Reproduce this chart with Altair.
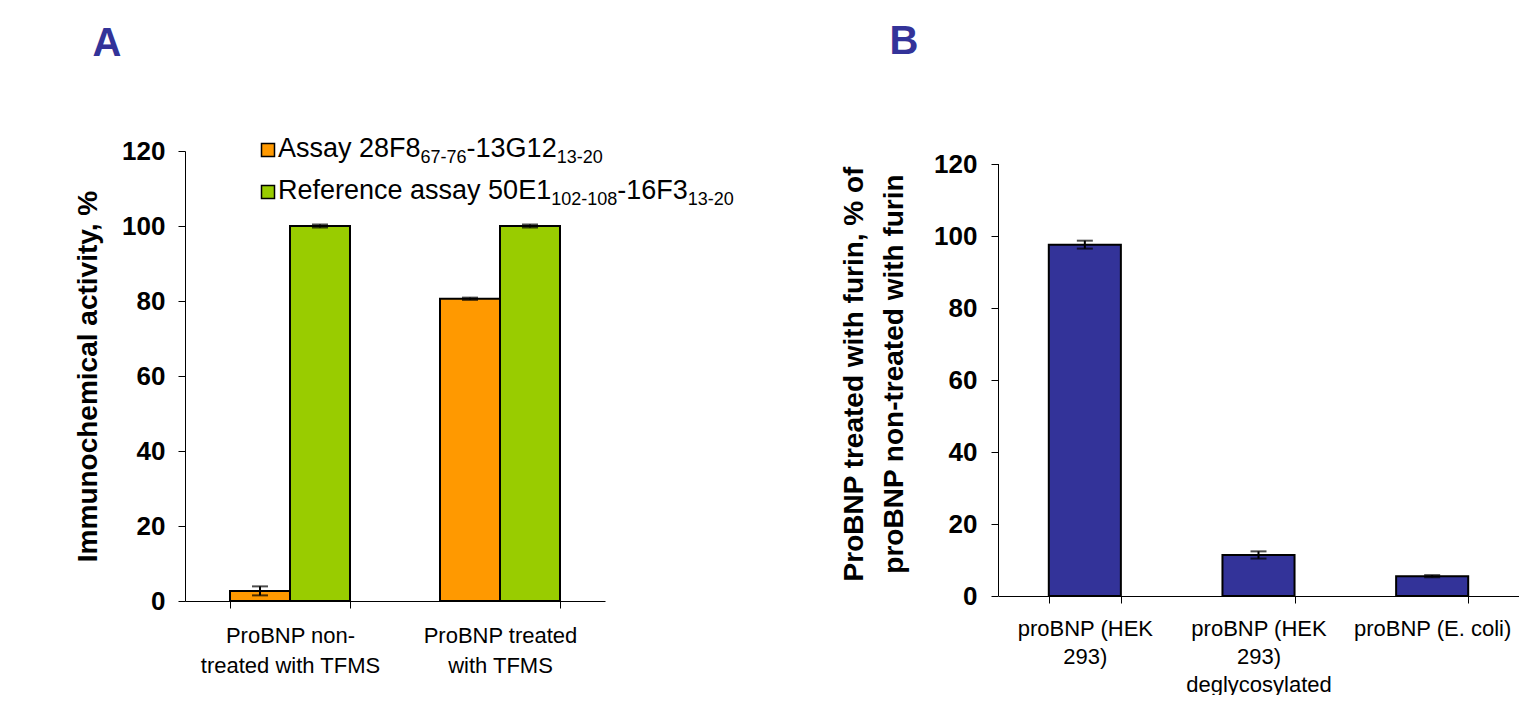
import altair as alt
import pandas as pd

# ---------------- data ----------------
cats_a = ["ProBNP non-|treated with TFMS", "ProBNP treated|with TFMS"]
series_a = ["Assay 28F8", "Reference assay 50E1"]
orange_vals = [2.7, 80.6]
orange_errs = [1.2, 0.3]
green_vals = [100.0, 100.0]
green_errs = [0.4, 0.4]

cats_b = ["proBNP (HEK|293)", "proBNP (HEK|293)|deglycosylated", "proBNP (E. coli)"]
vals_b = [97.6, 11.4, 5.5]
errs_b = [1.1, 1.0, 0.3]

y_ticks = [0, 20, 40, 60, 80, 100, 120]

# legend text segments (text, is_subscript)
legend_line1 = [("Assay 28F8", False), ("67-76", True), ("-13G12", False), ("13-20", True)]
legend_line2 = [("Reference assay 50E1", False), ("102-108", True), ("-16F3", False), ("13-20", True)]

rows = []
for i, c in enumerate(cats_a):
    rows.append(dict(cat=c, series=series_a[0], value=orange_vals[i],
                     lo=orange_vals[i] - orange_errs[i], hi=orange_vals[i] + orange_errs[i]))
    rows.append(dict(cat=c, series=series_a[1], value=green_vals[i],
                     lo=green_vals[i] - green_errs[i], hi=green_vals[i] + green_errs[i]))
df_a = pd.DataFrame(rows)

df_b = pd.DataFrame(dict(cat=cats_b, value=vals_b,
                         lo=[v - e for v, e in zip(vals_b, errs_b)],
                         hi=[v + e for v, e in zip(vals_b, errs_b)]))

FONT = "Liberation Sans"
BLUE = "#333399"

# Arial widths (per 1000 em) for legend layout
W = {"A": 667, "s": 500, "a": 556, "y": 500, " ": 278, "F": 611, "-": 333, "G": 778,
     "R": 722, "e": 556, "f": 278, "r": 333, "n": 556, "c": 500, "E": 667}
for d in "0123456789":
    W[d] = 556


def tw(t, size):
    return sum(W.get(ch, 556) for ch in t) * size / 1000.0


MAIN, SUB = 27, 18
LABEL_EXPR = "isValid(datum.value) ? split(datum.value, '|') : ''"

# ---------------- panel A ----------------
A_W, A_H = 420, 450
xA = alt.X("cat:N", sort=cats_a,
           scale=alt.Scale(paddingInner=0.4286, paddingOuter=0.2143),
           axis=alt.Axis(title=None, labelExpr=LABEL_EXPR, labelAngle=0,
                         labelFontSize=22, labelFont=FONT, labelColor="black",
                         labelLineHeight=30, labelPadding=17,
                         tickBand="extent", tickSize=7, tickColor="black",
                         domainColor="black"))
xoffA = alt.XOffset("series:N", sort=series_a, scale=alt.Scale(paddingInner=0, paddingOuter=0))
yaxis_common = dict(values=y_ticks, grid=False, labelFontSize=26, labelFontWeight="bold",
                    labelFont=FONT, labelColor="black", tickSize=7,
                    tickColor="black", domainColor="black", titleFont=FONT,
                    titleFontSize=28, titleFontWeight="bold", titleColor="black")
yA = alt.Y("value:Q", scale=alt.Scale(domain=[0, 120], nice=False),
           axis=alt.Axis(title="Immunochemical activity, %", titlePadding=19,
                         labelPadding=13, **yaxis_common))
colA = alt.Color("series:N", scale=alt.Scale(domain=series_a, range=["#FF9900", "#99CC00"]),
                 legend=None)

baseA = alt.Chart(df_a)
barsA = baseA.mark_bar(stroke="black", strokeWidth=2).encode(x=xA, xOffset=xoffA, y=yA, color=colA)
ruleA = baseA.mark_rule(color="black", strokeWidth=2).encode(x=xA, xOffset=xoffA, y="lo:Q", y2="hi:Q")
capLoA = baseA.mark_tick(color="black", size=16, thickness=2).encode(x=xA, xOffset=xoffA, y="lo:Q")
capHiA = baseA.mark_tick(color="black", size=16, thickness=2).encode(x=xA, xOffset=xoffA, y="hi:Q")

legend_layers = []
sq_colors = ["#FF9900", "#99CC00"]
for li, (line, sqc) in enumerate(zip([legend_line1, legend_line2], sq_colors)):
    base_y = 6 + li * 42
    legend_layers.append(
        alt.Chart(pd.DataFrame({"k": [0]})).mark_square(size=169, color=sqc, stroke="black",
                                                        strokeWidth=1.5, opacity=1)
        .encode(x=alt.value(83), y=alt.value(base_y - 7))
    )
    xpos = 93
    for seg, is_sub in line:
        size = SUB if is_sub else MAIN
        legend_layers.append(
            alt.Chart(pd.DataFrame({"k": [0]})).mark_text(
                text=seg, font=FONT, fontSize=size, align="left", baseline="alphabetic",
                color="black")
            .encode(x=alt.value(xpos), y=alt.value(base_y + (6 if is_sub else 0)))
        )
        xpos += tw(seg, size)

letterA = alt.Chart(pd.DataFrame({"k": [0]})).mark_text(
    text="A", font=FONT, fontSize=40, fontWeight="bold", color=BLUE, align="center",
    baseline="alphabetic").encode(x=alt.value(-78), y=alt.value(-95))

panelA = alt.layer(barsA, ruleA, capLoA, capHiA, letterA, *legend_layers).properties(
    width=A_W, height=A_H)

# ---------------- panel B ----------------
# plot area top is shared with panel A; the 0-120 range sits in the lower 432 px
B_W, B_H = 521, 445
B_TOP = 120 * B_H / 432
xB = alt.X("cat:N", sort=cats_b,
           scale=alt.Scale(paddingInner=0.585, paddingOuter=0.2925),
           axis=alt.Axis(title=None, labelExpr=LABEL_EXPR, labelAngle=0,
                         labelFontSize=22, labelFont=FONT, labelColor="black",
                         labelLineHeight=28, labelPadding=15,
                         tickBand="extent", tickSize=7, tickColor="black",
                         domainColor="black"))
yB = alt.Y("value:Q", scale=alt.Scale(domain=[0, B_TOP], nice=False),
           axis=alt.Axis(title=["ProBNP treated with furin, % of", "proBNP non-treated with furin"],
                         titlePadding=25, titleLineHeight=40, labelPadding=14, domain=False,
                         **yaxis_common))
baseB = alt.Chart(df_b)
barsB = baseB.mark_bar(stroke="black", strokeWidth=2, color=BLUE).encode(x=xB, y=yB)
ruleB = baseB.mark_rule(color="black", strokeWidth=2).encode(x=xB, y="lo:Q", y2="hi:Q")
capLoB = baseB.mark_tick(color="black", size=16, thickness=2).encode(x=xB, y="lo:Q")
capHiB = baseB.mark_tick(color="black", size=16, thickness=2).encode(x=xB, y="hi:Q")
domainB = alt.Chart(pd.DataFrame({"k": [0]})).mark_rule(color="black", strokeWidth=1).encode(
    x=alt.value(0.5), y=alt.datum(0), y2=alt.datum(120))
letterB = alt.Chart(pd.DataFrame({"k": [0]})).mark_text(
    text="B", font=FONT, fontSize=40, fontWeight="bold", color=BLUE, align="center",
    baseline="alphabetic").encode(x=alt.value(-94), y=alt.value(-97))

panelB = alt.layer(barsB, ruleB, capLoB, capHiB, domainB, letterB).properties(
    width=B_W, height=B_H)

chart = alt.hconcat(panelA, panelB, spacing=106).properties(
    padding={"left": 66, "top": 14, "right": 0, "bottom": 0},
    background="white",
).configure_view(stroke=None)

chart.save("out.html", embed_options={"renderer": "svg", "actions": False})
